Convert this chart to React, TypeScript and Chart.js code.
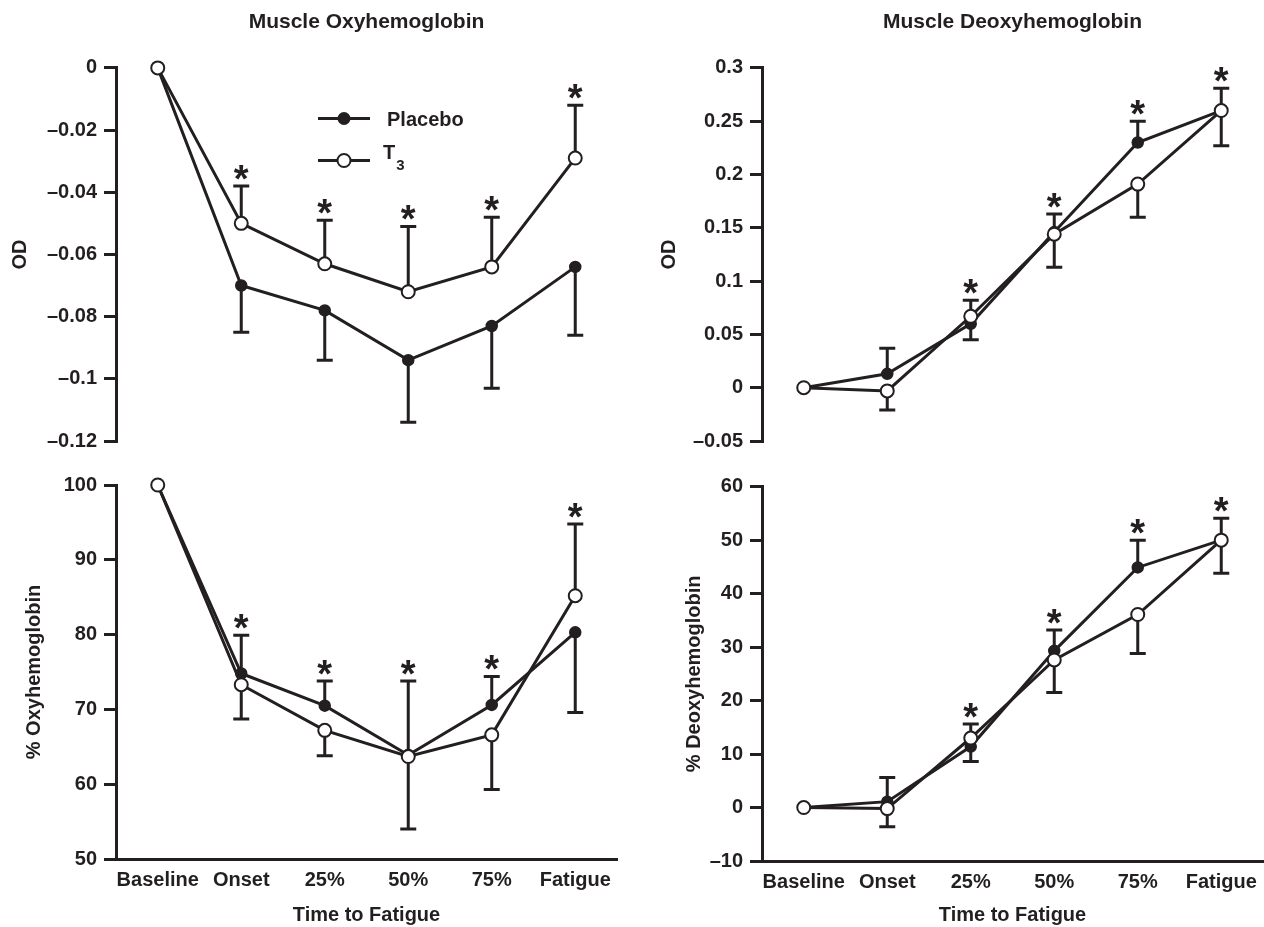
import React, { useEffect, useRef } from 'react';
import { Chart, registerables } from 'chart.js';

Chart.register(...registerables);

// ---------- data ----------
const categories = ['Baseline', 'Onset', '25%', '50%', '75%', 'Fatigue'];

// Muscle Oxyhemoglobin (OD)
const oxyOdPlacebo = [0, -0.07, -0.078, -0.094, -0.083, -0.064];
const oxyOdPlaceboErr = [0, -0.015, -0.016, -0.02, -0.02, -0.022];
const oxyOdT3 = [0, -0.05, -0.063, -0.072, -0.064, -0.029];
const oxyOdT3Err = [0, 0.012, 0.014, 0.021, 0.016, 0.017];
const oxyOdSig = [false, true, true, true, true, true];
const oxyOdTicks = [0, -0.02, -0.04, -0.06, -0.08, -0.1, -0.12];

// Muscle Deoxyhemoglobin (OD)
const deoxyOdPlacebo = [0, 0.013, 0.06, 0.146, 0.23, 0.26];
const deoxyOdPlaceboErr = [0, 0.024, -0.015, 0.017, 0.02, 0.021];
const deoxyOdT3 = [0, -0.003, 0.067, 0.144, 0.191, 0.26];
const deoxyOdT3Err = [0, -0.018, 0.015, -0.031, -0.031, -0.033];
const deoxyOdSig = [false, false, true, true, true, true];
const deoxyOdTicks = [0.3, 0.25, 0.2, 0.15, 0.1, 0.05, 0, -0.05];

// % Oxyhemoglobin
const oxyPctPlacebo = [100, 74.8, 70.5, 63.9, 70.6, 80.3];
const oxyPctPlaceboErr = [0, 5.1, 3.3, 9.9, 3.8, -10.7];
const oxyPctT3 = [100, 73.3, 67.2, 63.7, 66.6, 85.2];
const oxyPctT3Err = [0, -4.6, -3.4, -9.7, -7.3, 9.6];
const oxyPctSig = [false, true, true, true, true, true];
const oxyPctTicks = [100, 90, 80, 70, 60, 50];

// % Deoxyhemoglobin
const deoxyPctPlacebo = [0, 1.1, 11.4, 29.3, 44.9, 50.0];
const deoxyPctPlaceboErr = [0, 4.5, -2.8, 3.9, 5.1, 4.1];
const deoxyPctT3 = [0, -0.2, 13.0, 27.6, 36.1, 50.0];
const deoxyPctT3Err = [0, -3.4, 2.6, -6.1, -7.3, -6.2];
const deoxyPctSig = [false, false, true, true, true, true];
const deoxyPctTicks = [60, 50, 40, 30, 20, 10, 0, -10];

// ---------- style ----------
const INK = '#231f20';
const FAMILY = '"Liberation Sans", Arial, Helvetica, sans-serif';
const tickFont = { family: FAMILY, size: 20, weight: 'bold' as const };
const titleFont = { family: FAMILY, size: 21, weight: 'bold' as const };

function fmt(v: number): string {
  if (v === 0) return '0';
  const s = String(Math.abs(v));
  return v < 0 ? '\u2013' + s : s;
}

// ---------- plugins ----------
const errorBarsPlugin = {
  id: 'errorBars',
  beforeDatasetsDraw(chart: any) {
    const { ctx } = chart;
    const yScale = chart.scales.y;
    ctx.save();
    ctx.strokeStyle = INK;
    ctx.lineWidth = 3;
    ctx.lineCap = 'butt';
    chart.data.datasets.forEach((ds: any, i: number) => {
      const meta = chart.getDatasetMeta(i);
      ds.data.forEach((v: number, j: number) => {
        const e = ds.errors ? ds.errors[j] : 0;
        if (!e) return;
        const x = meta.data[j].x;
        const y0 = yScale.getPixelForValue(v);
        const y1 = yScale.getPixelForValue(v + e);
        ctx.beginPath();
        ctx.moveTo(x, y0);
        ctx.lineTo(x, y1);
        ctx.moveTo(x - 8, y1);
        ctx.lineTo(x + 8, y1);
        ctx.stroke();
      });
    });
    ctx.restore();
  },
};

const sigPlugin = {
  id: 'sigMarks',
  afterDatasetsDraw(chart: any, _args: any, opts: any) {
    const sig: boolean[] = opts.sig || [];
    const { ctx } = chart;
    const yScale = chart.scales.y;
    const size = 38;
    ctx.save();
    ctx.fillStyle = INK;
    ctx.font = `bold ${size}px ${FAMILY}`;
    ctx.textAlign = 'center';
    ctx.textBaseline = 'alphabetic';
    sig.forEach((s, j) => {
      if (!s) return;
      let top = -Infinity;
      chart.data.datasets.forEach((ds: any) => {
        const e = ds.errors ? ds.errors[j] : 0;
        top = Math.max(top, ds.data[j] + Math.max(e, 0), ds.data[j]);
      });
      const x = chart.getDatasetMeta(0).data[j].x;
      const capY = yScale.getPixelForValue(top);
      ctx.fillText('*', x, capY - 16 + 0.57 * size);
    });
    ctx.restore();
  },
};

const keyPlugin = {
  id: 'seriesKey',
  afterDraw(chart: any, _args: any, opts: any) {
    if (!opts.show) return;
    const { ctx, chartArea } = chart;
    const x0 = chartArea.left + 202;
    const x1 = chartArea.left + 254;
    const xm = chartArea.left + 228;
    const xt = chartArea.left + 271;
    const rows = [chartArea.top + 50.6, chartArea.top + 92.6];
    ctx.save();
    ctx.strokeStyle = INK;
    ctx.fillStyle = INK;
    ctx.lineWidth = 3;
    rows.forEach((y, k) => {
      ctx.beginPath();
      ctx.moveTo(x0, y);
      ctx.lineTo(x1, y);
      ctx.stroke();
      ctx.beginPath();
      ctx.lineWidth = 2;
      ctx.arc(xm, y, k === 0 ? 5.5 : 6.5, 0, Math.PI * 2);
      ctx.fillStyle = k === 0 ? INK : '#ffffff';
      ctx.fill();
      ctx.stroke();
      ctx.lineWidth = 3;
    });
    ctx.fillStyle = INK;
    ctx.textAlign = 'left';
    ctx.textBaseline = 'alphabetic';
    ctx.font = `bold 20px ${FAMILY}`;
    ctx.fillText('Placebo', xt, rows[0] + 7);
    ctx.fillText('T', xt - 4, rows[1] - 2);
    const tw = ctx.measureText('T').width;
    ctx.font = `bold 15px ${FAMILY}`;
    ctx.fillText('3', xt - 4 + tw + 1, rows[1] + 9);
    ctx.restore();
  },
};

// ---------- config ----------
type Spec = {
  x: number; y: number; w: number; h: number;
  placebo: number[]; placeboErr: number[];
  t3: number[]; t3Err: number[];
  sig: boolean[]; ticks: number[];
  yTitle: string; yTitlePad: number;
  title?: string;
  showX: boolean;
  legend: boolean;
  pad: { top: number; bottom: number; left: number; right: number };
  yWidth: number;
  xHeight: number;
};

function buildConfig(s: Spec): any {
  const yMin = Math.min(...s.ticks);
  const yMax = Math.max(...s.ticks);
  return {
    type: 'line',
    data: {
      labels: categories,
      datasets: [
        {
          label: 'T3',
          data: s.t3,
          errors: s.t3Err,
          order: 1,
          borderColor: INK,
          borderWidth: 3,
          pointRadius: 6.5,
          pointBorderWidth: 2,
          pointBackgroundColor: '#ffffff',
          pointBorderColor: INK,
          tension: 0,
          clip: false,
        },
        {
          label: 'Placebo',
          data: s.placebo,
          errors: s.placeboErr,
          order: 2,
          borderColor: INK,
          borderWidth: 3,
          pointRadius: 5.5,
          pointBorderWidth: 1.5,
          pointBackgroundColor: INK,
          pointBorderColor: INK,
          tension: 0,
          clip: false,
        },
      ],
    },
    options: {
      animation: false,
      responsive: false,
      devicePixelRatio: 1,
      events: [],
      layout: { padding: s.pad, autoPadding: false },
      plugins: {
        legend: { display: false },
        tooltip: { enabled: false },
        title: {
          display: !!s.title,
          text: s.title || '',
          color: INK,
          font: titleFont,
          fullSize: false,
          padding: { top: 10, bottom: 32.7 },
        },
        sigMarks: { sig: s.sig },
        seriesKey: { show: s.legend },
      },
      scales: {
        x: {
          type: 'category',
          offset: true,
          display: s.showX,
          grid: { display: false, drawTicks: false },
          border: { display: true, color: INK, width: 3 },
          ticks: { color: INK, font: tickFont, padding: 9, maxRotation: 0, autoSkip: false },
          title: {
            display: true,
            text: 'Time to Fatigue',
            color: INK,
            font: tickFont,
            padding: { top: 0, bottom: 0 },
          },
          afterFit: (sc: any) => {
            sc.height = s.xHeight;
            sc.paddingLeft = 0;
            sc.paddingRight = 0;
          },
        },
        y: {
          type: 'linear',
          min: yMin,
          max: yMax,
          afterBuildTicks: (sc: any) => { sc.ticks = s.ticks.map((v) => ({ value: v })); },
          ticks: {
            color: INK,
            font: tickFont,
            padding: 7,
            callback: (v: any) => fmt(Number(v)),
          },
          grid: {
            display: true,
            drawOnChartArea: false,
            drawTicks: true,
            tickLength: 12,
            color: INK,
            lineWidth: 3,
          },
          border: { display: true, color: INK, width: 3 },
          title: {
            display: true,
            text: s.yTitle,
            color: INK,
            font: tickFont,
            padding: { top: s.yTitlePad, bottom: 0 },
          },
          afterFit: (sc: any) => { sc.width = s.yWidth; },
        },
      },
    },
    plugins: [errorBarsPlugin, sigPlugin, keyPlugin],
  };
}

const specs: Spec[] = [
  {
    x: 0, y: 0, w: 632, h: 460,
    placebo: oxyOdPlacebo, placeboErr: oxyOdPlaceboErr,
    t3: oxyOdT3, t3Err: oxyOdT3Err, sig: oxyOdSig, ticks: oxyOdTicks,
    yTitle: 'OD', yTitlePad: 8, title: 'Muscle Oxyhemoglobin',
    showX: false, legend: true,
    pad: { top: 0, bottom: 18.3, left: 0, right: 15 },
    yWidth: 116, xHeight: 0,
  },
  {
    x: 640, y: 0, w: 624, h: 460,
    placebo: deoxyOdPlacebo, placeboErr: deoxyOdPlaceboErr,
    t3: deoxyOdT3, t3Err: deoxyOdT3Err, sig: deoxyOdSig, ticks: deoxyOdTicks,
    yTitle: 'OD', yTitlePad: 17, title: 'Muscle Deoxyhemoglobin',
    showX: false, legend: false,
    pad: { top: 0, bottom: 18.5, left: 0, right: 1 },
    yWidth: 122, xHeight: 0,
  },
  {
    x: 0, y: 460, w: 632, h: 467,
    placebo: oxyPctPlacebo, placeboErr: oxyPctPlaceboErr,
    t3: oxyPctT3, t3Err: oxyPctT3Err, sig: oxyPctSig, ticks: oxyPctTicks,
    yTitle: '% Oxyhemoglobin', yTitlePad: 22,
    showX: true, legend: false,
    pad: { top: 25, bottom: 0, left: 0, right: 15 },
    yWidth: 116, xHeight: 68,
  },
  {
    x: 640, y: 460, w: 624, h: 467,
    placebo: deoxyPctPlacebo, placeboErr: deoxyPctPlaceboErr,
    t3: deoxyPctT3, t3Err: deoxyPctT3Err, sig: deoxyPctSig, ticks: deoxyPctTicks,
    yTitle: '% Deoxyhemoglobin', yTitlePad: 42,
    showX: true, legend: false,
    pad: { top: 26.7, bottom: 0, left: 0, right: 1 },
    yWidth: 122, xHeight: 66,
  },
];

function Panel({ spec }: { spec: Spec }) {
  const ref = useRef<HTMLCanvasElement | null>(null);
  useEffect(() => {
    if (!ref.current) return;
    const chart = new Chart(ref.current, buildConfig(spec));
    return () => chart.destroy();
  }, [spec]);
  return (
    <canvas
      ref={ref}
      width={spec.w}
      height={spec.h}
      style={{ position: 'absolute', left: spec.x, top: spec.y, width: spec.w, height: spec.h, display: 'block' }}
    />
  );
}

export default function App() {
  return (
    <div style={{ position: 'absolute', left: 0, top: 0, width: 1264, height: 927, background: '#ffffff', overflow: 'hidden' }}>
      {specs.map((s, i) => (
        <Panel key={i} spec={s} />
      ))}
    </div>
  );
}
